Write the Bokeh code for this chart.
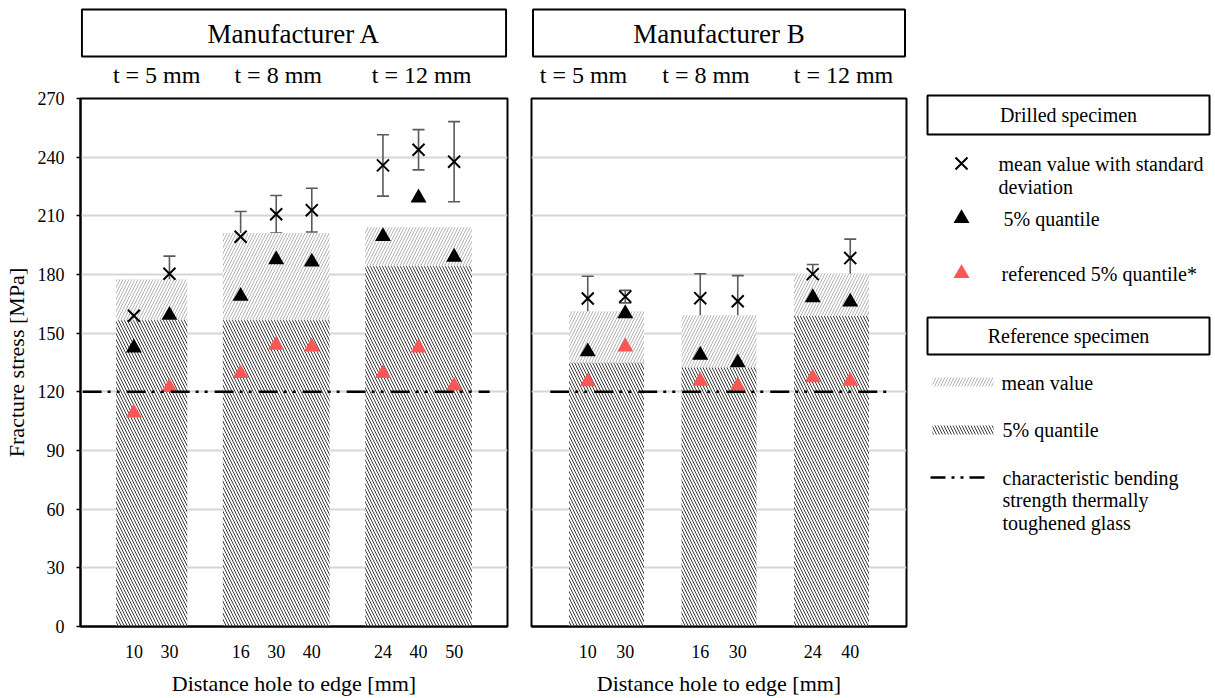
from bokeh.plotting import figure
from bokeh.models import ColumnDataSource, FactorRange, Range1d, FixedTicker, Whisker, TeeHead
from bokeh.layouts import row, column
from bokeh.embed import file_html
from bokeh.resources import INLINE
from bokeh.core.properties import value

FONT = "Liberation Serif"

# ---------------- data ----------------
groups = ["t = 5 mm", "t = 8 mm", "t = 12 mm"]

# Manufacturer A
dist_A = [["10", "30"], ["16", "30", "40"], ["24", "40", "50"]]
mean_A = [158.9, 180.4, 199.3, 210.8, 212.9, 235.8, 243.8, 237.7]
sd_A = [6.5, 9.0, 12.9, 9.6, 11.2, 15.7, 10.3, 20.5]
q5_A = [142.5, 159.2, 168.9, 187.6, 186.4, 199.5, 219.2, 188.9]
refq5_A = [109.3, 122.3, 129.4, 143.9, 143.0, 129.4, 142.5, 123.0]
ref_mean_A = [177.6, 201.2, 204.1]
ref_q5_A = [156.6, 156.6, 184.2]

# Manufacturer B
dist_B = [["10", "30"], ["16", "30"], ["24", "40"]]
mean_B = [167.7, 168.7, 167.9, 166.3, 180.2, 188.4]
sd_B = [11.4, 3.2, 12.5, 13.1, 4.9, 9.7]
q5_B = [140.5, 160.0, 138.8, 134.9, 168.2, 166.0]
refq5_B = [125.2, 143.0, 125.5, 123.0, 127.2, 125.5]
ref_mean_B = [161.2, 159.2, 180.4]
ref_q5_B = [134.9, 132.5, 158.8]

char_strength = 120
y_ticks = [0, 30, 60, 90, 120, 150, 180, 210, 240, 270]

titles = ["Manufacturer A", "Manufacturer B"]
y_label = "Fracture stress [MPa]"
x_label = "Distance hole to edge [mm]"

# ---------------- styles ----------------
LIGHT_HATCH = dict(hatch_pattern="/", hatch_color="#b4b4b4", hatch_scale=6, hatch_weight=1)
DARK_HATCH = dict(hatch_pattern="\\", hatch_color="#3a3a3a", hatch_scale=6, hatch_weight=1)
RED = "#fb5656"
ERR = "#5a5a5a"
DASH = "19 6 3 6 3 7"
HEAD_H = 88
PANEL_TOP = 10
GROUP_PAD = 1.0


def make_panel(title, dists, mean, sd, q5, rq5, rmean, rq5bar, width, bl, br,
               show_y, t_offsets, line_span):
    factors = [(g, d) for g, ds in zip(groups, dists) for d in ds]
    xr = FactorRange(*factors, group_padding=GROUP_PAD, factor_padding=0.0,
                     range_padding=1.0, range_padding_units="absolute")
    start = -1.0
    end = len(factors) + (len(groups) - 1) * GROUP_PAD + 1.0

    # header: box with title, thickness labels below it
    h = figure(x_range=xr, y_range=Range1d(0, HEAD_H), width=width, height=HEAD_H,
               min_border_left=bl, min_border_right=br, min_border_top=0,
               min_border_bottom=0, x_axis_location=None, y_axis_location=None,
               outline_line_color=None, toolbar_location=None, output_backend="svg")
    h.grid.visible = False
    h.quad(left=[start + 0.04], right=[end - 0.04], bottom=[32], top=[79],
           fill_color=None, line_color="black", line_width=2)
    h.text(x=[(start + end) / 2], y=[55], text=[title], text_font=value(FONT),
           text_font_size="27px", text_align="center", text_baseline="middle",
           text_color="black")
    h.text(x=groups, y=[0.5, 0.5, 0.5], text=groups, x_offset=t_offsets,
           text_font=value(FONT), text_font_size="24px", text_align="center",
           text_baseline="bottom", text_color="black")

    p = figure(x_range=xr, y_range=Range1d(0, 270), width=width, height=698 - HEAD_H,
               min_border_left=bl, min_border_right=br, min_border_top=PANEL_TOP,
               min_border_bottom=71, toolbar_location=None, output_backend="svg",
               y_axis_location="left" if show_y else None)
    p.outline_line_color = "black"
    p.outline_line_width = 2
    p.xgrid.visible = False
    p.ygrid.ticker = FixedTicker(ticks=y_ticks)
    p.ygrid.grid_line_color = "#d6d6d6"
    p.ygrid.grid_line_width = 2

    bars = ColumnDataSource(dict(x=groups, w=[len(d) for d in dists],
                                 m=rmean, q=rq5bar))
    p.vbar(x="x", width="w", top="m", bottom=0, source=bars, fill_color="white",
           line_color=None, **LIGHT_HATCH)
    p.vbar(x="x", width="w", top="q", bottom=0, source=bars, fill_color="white",
           line_color=None, **DARK_HATCH)

    src = ColumnDataSource(dict(
        x=factors, mean=mean, q5=q5, rq5=rq5,
        upper=[m + s for m, s in zip(mean, sd)],
        lower=[m - s for m, s in zip(mean, sd)]))
    p.add_layout(Whisker(source=src, base="x", upper="upper", lower="lower",
                         line_color=ERR, line_width=1.6,
                         upper_head=TeeHead(size=12, line_color=ERR, line_width=1.6),
                         lower_head=TeeHead(size=12, line_color=ERR, line_width=1.6)))
    p.scatter(x="x", y="mean", source=src, marker="x", size=17,
              line_color="black", line_width=2)
    p.scatter(x="x", y="q5", source=src, marker="triangle", size=16,
              fill_color="black", line_color=None)
    p.scatter(x="x", y="rq5", source=src, marker="triangle", size=16,
              fill_color=RED, line_color=None)
    p.line(x=[start + line_span[0], end - line_span[1]],
           y=[char_strength, char_strength], line_color="black",
           line_width=2.5, line_dash=DASH)

    ax = p.xaxis[0]
    ax.axis_label = x_label
    ax.axis_label_text_font = FONT
    ax.axis_label_text_font_size = "22px"
    ax.axis_label_text_font_style = "normal"
    ax.axis_label_text_color = "black"
    ax.axis_label_standoff = 10
    ax.major_label_text_font = FONT
    ax.major_label_text_font_size = "18px"
    ax.major_label_text_color = "black"
    ax.major_label_standoff = 12
    ax.group_text_font_size = "0px"
    ax.group_text_color = None
    ax.separator_line_color = None
    ax.major_tick_line_color = None
    ax.minor_tick_line_color = None
    ax.axis_line_color = "black"
    ax.axis_line_width = 2

    if show_y:
        ay = p.yaxis[0]
        ay.ticker = FixedTicker(ticks=y_ticks)
        ay.axis_label = y_label
        ay.axis_label_text_font = FONT
        ay.axis_label_text_font_size = "22px"
        ay.axis_label_text_font_style = "normal"
        ay.axis_label_text_color = "black"
        ay.axis_label_standoff = 6
        ay.major_label_text_font = FONT
        ay.major_label_text_font_size = "18px"
        ay.major_label_text_color = "black"
        ay.major_label_standoff = 12
        ay.major_tick_in = 0
        ay.major_tick_out = 4
        ay.major_tick_line_color = "black"
        ay.major_tick_line_width = 1.5
        ay.minor_tick_line_color = None
        ay.axis_line_color = "black"
        ay.axis_line_width = 2
    return column(h, p)


col_A = make_panel(titles[0], dist_A, mean_A, sd_A, q5_A, refq5_A, ref_mean_A,
                   ref_q5_A, 519, 80, 12, True, [5, 2, 3], (0.06, 0.5))
col_B = make_panel(titles[1], dist_B, mean_B, sd_B, q5_B, refq5_B, ref_mean_B,
                   ref_q5_B, 396, 12, 9, False, [-23, -13, 12], (0.5, 0.5))

# ---------------- legend ----------------
lg = figure(x_range=Range1d(0, 300), y_range=Range1d(0, 698), width=300, height=698,
            min_border=0, x_axis_location=None, y_axis_location=None,
            outline_line_color=None, toolbar_location=None, output_backend="svg")
lg.grid.visible = False

head_boxes = dict(left=[12, 12], right=[294, 294], bottom=[564, 344], top=[603, 381])
lg.quad(**head_boxes, fill_color=None, line_color="black", line_width=2)
lg.text(x=[153, 153], y=[583.5, 362.5], text=["Drilled specimen", "Reference specimen"],
        text_font=value(FONT), text_font_size="20px", text_align="center",
        text_baseline="middle", text_color="black")

lg.scatter(x=[46], y=[535], marker="x", size=17, line_color="black", line_width=2)
lg.scatter(x=[46], y=[480], marker="triangle", size=16, fill_color="black", line_color=None)
lg.scatter(x=[46], y=[425], marker="triangle", size=16, fill_color=RED, line_color=None)
lg.quad(left=[17], right=[78], bottom=[312], top=[321], fill_color="white",
        line_color=None, **LIGHT_HATCH)
lg.quad(left=[17], right=[78], bottom=[264], top=[273], fill_color="white",
        line_color=None, **DARK_HATCH)
lg.line(x=[15, 70], y=[221, 221], line_color="black", line_width=2.5,
        line_dash="15 6 3 6 3 6")

leg_text = ["mean value with standard", "deviation", "5% quantile",
            "referenced 5% quantile*", "mean value", "5% quantile",
            "characteristic bending", "strength thermally", "toughened glass"]
lg.text(x=[83, 83, 88, 86, 86, 87, 87, 87, 87],
        y=[535, 512, 480, 425, 316, 269, 221, 199, 176],
        text=leg_text, text_font=value(FONT), text_font_size="20px",
        text_align="left", text_baseline="middle", text_color="black")

layout = row(col_A, col_B, lg)
open("out.html", "w").write(file_html(layout, INLINE))
